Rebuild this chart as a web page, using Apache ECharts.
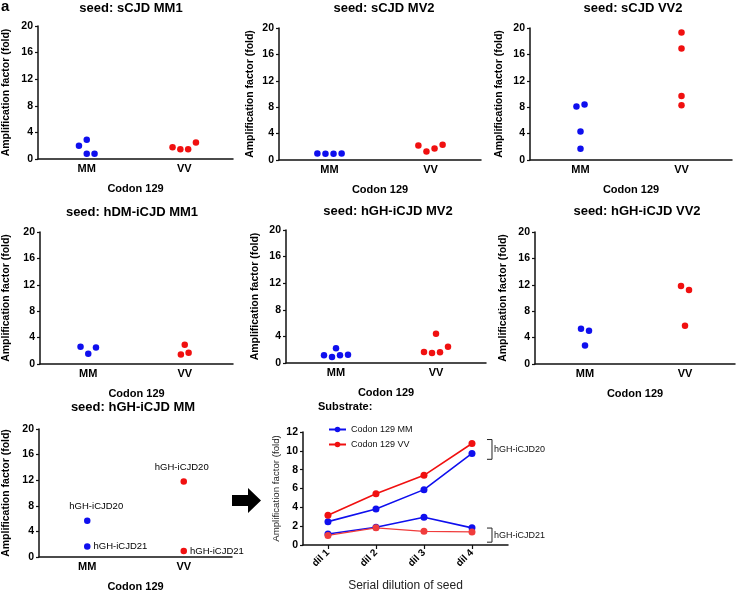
<!DOCTYPE html>
<html><head><meta charset="utf-8">
<script src="https://cdn.jsdelivr.net/npm/echarts@6/dist/echarts.min.js"></script>
<style>html,body{margin:0;padding:0;background:#fff}#c{width:738px;height:593px}</style>
</head><body><div id="c"></div>
<script>
// ---------- data ----------
const codonCats = ['MM', 'VV'];
const foldTicks = [0, 4, 8, 12, 16, 20];

const sCJD_MM1_MM = [2.0, 2.9, 0.8, 0.8];
const sCJD_MM1_VV = [1.75, 1.45, 1.45, 2.5];
const sCJD_MV2_MM = [1.0, 0.95, 0.95, 1.0];
const sCJD_MV2_VV = [2.2, 1.3, 1.75, 2.3];
const sCJD_VV2_MM = [8.1, 8.4, 4.3, 1.7];
const sCJD_VV2_VV = [19.3, 16.9, 9.7, 8.3];
const hDM_MM1_MM = [2.6, 1.55, 2.5];
const hDM_MM1_VV = [1.45, 2.9, 1.7];
const hGH_MV2_MM = [1.15, 0.9, 2.2, 1.15, 1.25];
const hGH_MV2_VV = [1.65, 1.5, 1.6, 4.4, 2.45];
const hGH_VV2_MM = [5.35, 5.05, 2.8];
const hGH_VV2_VV = [11.8, 11.2, 5.8];
const hGH_MM_MM = [5.65, 1.65];
const hGH_MM_VV = [11.8, 0.95];
const hGH_MM_names = ['hGH-iCJD20', 'hGH-iCJD21'];

// beeswarm slot of each dot (horizontal spread within its column)
const slot_MM1_MM = [-1, 0, 0, 1];
const slot_MM1_VV = [-1.5, -0.5, 0.5, 1.5];
const slot_MV2_MM = [-1.5, -0.5, 0.5, 1.5];
const slot_MV2_VV = [-1.5, -0.5, 0.5, 1.5];
const slot_VV2_MM = [-0.5, 0.5, 0, 0];
const slot_VV2_VV = [0, 0, 0, 0];
const slot_hDM_MM = [-1, 0, 1];
const slot_hDM_VV = [-0.5, 0, 0.5];
const slot_hMV2_MM = [-1.5, -0.5, 0, 0.5, 1.5];
const slot_hMV2_VV = [-1.5, -0.5, 0.5, 0, 1.5];
const slot_hVV2_MM = [-0.5, 0.5, 0];
const slot_hVV2_VV = [-0.5, 0.5, 0];
const slot_hMM = [0, 0];

const dilCats = ['dil 1', 'dil 2', 'dil 3', 'dil 4'];
const mm_iCJD20 = [2.48, 3.83, 5.88, 9.72];
const vv_iCJD20 = [3.17, 5.45, 7.40, 10.78];
const mm_iCJD21 = [1.16, 1.88, 2.94, 1.82];
const vv_iCJD21 = [1.02, 1.82, 1.45, 1.39];
const groupNames = ['hGH-iCJD20', 'hGH-iCJD21'];
const bracket20 = [9.1, 11.2];
const bracket21 = [0.3, 1.8];

// ---------- layout ----------
const BLUE = '#0f0fee', RED = '#f01010', FONT = '"Liberation Sans", Arial, sans-serif';
const panels = [
  {title: 'seed: sCJD MM1', tx: 131, ty: 8, g: {left: 31, top: 26, width: 202, height: 133}, mm: sCJD_MM1_MM, ms: slot_MM1_MM, vv: sCJD_MM1_VV, vs: slot_MM1_VV, ng: 26},
  {title: 'seed: sCJD MV2', tx: 384, ty: 8, g: {left: 279, top: 28, width: 202, height: 132}, mm: sCJD_MV2_MM, ms: slot_MV2_MM, vv: sCJD_MV2_VV, vs: slot_MV2_VV, ng: 23},
  {title: 'seed: sCJD VV2', tx: 633, ty: 8, g: {left: 530, top: 28, width: 202, height: 132}, mm: sCJD_VV2_MM, ms: slot_VV2_MM, vv: sCJD_VV2_VV, vs: slot_VV2_VV, ng: 25},
  {title: 'seed: hDM-iCJD MM1', tx: 132, ty: 212, g: {left: 33, top: 232, width: 200, height: 132}, mm: hDM_MM1_MM, ms: slot_hDM_MM, vv: hDM_MM1_VV, vs: slot_hDM_VV, ng: 28},
  {title: 'seed: hGH-iCJD MV2', tx: 388, ty: 211, g: {left: 286, top: 230, width: 200, height: 133}, mm: hGH_MV2_MM, ms: slot_hMV2_MM, vv: hGH_MV2_VV, vs: slot_hMV2_VV, ng: 25},
  {title: 'seed: hGH-iCJD VV2', tx: 637, ty: 211, g: {left: 535, top: 232, width: 200, height: 132}, mm: hGH_VV2_MM, ms: slot_hVV2_MM, vv: hGH_VV2_VV, vs: slot_hVV2_VV, ng: 26},
  {title: 'seed: hGH-iCJD MM', tx: 133, ty: 407, g: {left: 32, top: 429, width: 200, height: 132}, mm: hGH_MM_MM, ms: slot_hMM, vv: hGH_MM_VV, vs: slot_hMM, ng: 27, labels: true}
];
const SLOT = 0.08;

const grid = [], xAxis = [], yAxis = [], series = [], graphic = [];
const axisLineStyle = {color: '#111', width: 1.5};

panels.forEach((p, i) => {
  grid.push(Object.assign({containLabel: false}, p.g));
  xAxis.push({
    type: 'value', gridIndex: i, min: -0.5, max: 1.5,
    axisLine: {show: true, onZero: false, lineStyle: axisLineStyle},
    axisTick: {show: false}, splitLine: {show: false},
    axisLabel: {customValues: [0, 1], formatter: v => codonCats[v] || '', color: '#000', fontWeight: 'bold', fontSize: 11, fontFamily: FONT, margin: 4},
    name: 'Codon 129', nameLocation: 'middle', nameGap: 24,
    nameTextStyle: {color: '#000', fontWeight: 'bold', fontSize: 11, fontFamily: FONT}
  });
  yAxis.push({
    type: 'value', gridIndex: i, min: 0, max: 20, interval: 4,
    axisLine: {show: true, onZero: false, lineStyle: axisLineStyle},
    axisTick: {show: true, length: 3, lineStyle: {color: '#111', width: 1.2}},
    splitLine: {show: false},
    axisLabel: {customValues: foldTicks, color: '#000', fontWeight: 'bold', fontSize: 10.5, fontFamily: FONT, margin: 5},
    name: 'Amplification factor (fold)', nameLocation: 'middle', nameGap: p.ng,
    nameTextStyle: {color: '#000', fontWeight: 'bold', fontSize: 10.5, fontFamily: FONT}
  });
  const mk = (vals, slots, cat, color) => ({
    type: 'scatter', xAxisIndex: i, yAxisIndex: i, symbolSize: 6.5, itemStyle: {color, opacity: 1},
    animation: false, silent: true,
    data: vals.map((v, k) => {
      const item = {value: [cat + slots[k] * SLOT, v]};
      if (p.labels) {
        item.label = {show: true, formatter: hGH_MM_names[k], color: '#000', fontSize: 9.5, fontFamily: FONT,
          position: k === 0 ? 'top' : 'right', distance: k === 0 ? 6 : 3,
          offset: k === 0 ? (cat === 0 ? [9, 0] : [-2, 0]) : [0, 0]};
      }
      return item;
    })
  });
  series.push(mk(p.mm, p.ms, 0, BLUE));
  series.push(mk(p.vv, p.vs, 1, RED));
  graphic.push({type: 'text', x: p.tx, y: p.ty, style: {text: p.title, textAlign: 'center', textVerticalAlign: 'middle', fill: '#000', fontSize: 13, fontWeight: 'bold', fontFamily: FONT}});
});

// ---------- line chart ----------
const LI = panels.length;
grid.push({left: 303, top: 432, width: 205, height: 121});
xAxis.push({
  type: 'value', gridIndex: LI, min: 0.48, max: 4.75,
  axisLine: {show: true, onZero: false, lineStyle: axisLineStyle},
  axisTick: {show: true, customValues: [1, 2, 3, 4], length: 4, lineStyle: {color: '#111', width: 1.2}},
  splitLine: {show: false},
  axisLabel: {customValues: [1, 2, 3, 4], formatter: v => dilCats[v - 1] || '', rotate: 45, color: '#000', fontWeight: 'bold', fontSize: 10, fontFamily: FONT, margin: 6},
  name: 'Serial dilution of seed', nameLocation: 'middle', nameGap: 35,
  nameTextStyle: {color: '#222', fontSize: 12, fontFamily: FONT}
});
yAxis.push({
  type: 'value', gridIndex: LI, min: 0, max: 12, interval: 2,
  axisLine: {show: true, onZero: false, lineStyle: axisLineStyle},
  axisTick: {show: true, length: 3, lineStyle: {color: '#111', width: 1.2}},
  splitLine: {show: false},
  axisLabel: {color: '#000', fontWeight: 'bold', fontSize: 10.5, fontFamily: FONT, margin: 5},
  name: 'Amplification factor (fold)', nameLocation: 'middle', nameGap: 22,
  nameTextStyle: {color: '#222', fontSize: 9.7, fontFamily: FONT}
});
const toXY = arr => arr.map((v, k) => [k + 1, v]);
const lineS = (name, vals, color, w) => ({
  type: 'line', name, xAxisIndex: LI, yAxisIndex: LI, data: toXY(vals), symbol: 'circle', symbolSize: 7,
  showSymbol: true, itemStyle: {color, opacity: 1}, lineStyle: {color, width: w}, animation: false, silent: true
});
series.push(lineS('Codon 129 MM', mm_iCJD20, BLUE, 1.6));
series.push(lineS('Codon 129 VV', vv_iCJD20, RED, 1.6));
series.push(lineS('Codon 129 MM', mm_iCJD21, BLUE, 1.6));
series.push(lineS('Codon 129 VV', vv_iCJD21, '#f03c3c', 1.1));

graphic.push({type: 'text', x: 1, y: 7, style: {text: 'a', textVerticalAlign: 'middle', fill: '#000', fontSize: 15, fontWeight: 'bold', fontFamily: FONT}});
graphic.push({type: 'text', x: 318, y: 407, style: {text: 'Substrate:', textVerticalAlign: 'middle', fill: '#000', fontSize: 11, fontWeight: 'bold', fontFamily: FONT}});
graphic.push({type: 'polygon', shape: {points: [[232, 495], [248, 495], [248, 488], [261, 500.5], [248, 513], [248, 506], [232, 506]]}, style: {fill: '#000'}});

const chart = echarts.init(document.getElementById('c'), null, {renderer: 'canvas'});
chart.setOption({
  backgroundColor: '#fff',
  animation: false,
  textStyle: {fontFamily: FONT},
  grid, xAxis, yAxis, series, graphic,
  legend: {
    data: ['Codon 129 MM', 'Codon 129 VV'], orient: 'vertical', left: 323, top: 420,
    itemWidth: 17, itemHeight: 7, itemGap: 6, selectedMode: false,
    textStyle: {fontSize: 9, color: '#111', fontFamily: FONT}
  }
});

// group brackets on the right of dil 4
const extra = [];
[[bracket20, groupNames[0]], [bracket21, groupNames[1]]].forEach(([rng, label]) => {
  const lo = chart.convertToPixel({gridIndex: LI}, [4, rng[0]]);
  const hi = chart.convertToPixel({gridIndex: LI}, [4, rng[1]]);
  const x0 = lo[0] + 15, x1 = lo[0] + 20;
  extra.push({type: 'polyline', shape: {points: [[x0, hi[1]], [x1, hi[1]], [x1, lo[1]], [x0, lo[1]]]}, style: {stroke: '#222', lineWidth: 1, fill: null}});
  extra.push({type: 'text', x: x1 + 2, y: (lo[1] + hi[1]) / 2, style: {text: label, textVerticalAlign: 'middle', fill: '#111', fontSize: 9, fontFamily: FONT}});
});
chart.setOption({graphic: graphic.concat(extra)});
</script></body></html>
